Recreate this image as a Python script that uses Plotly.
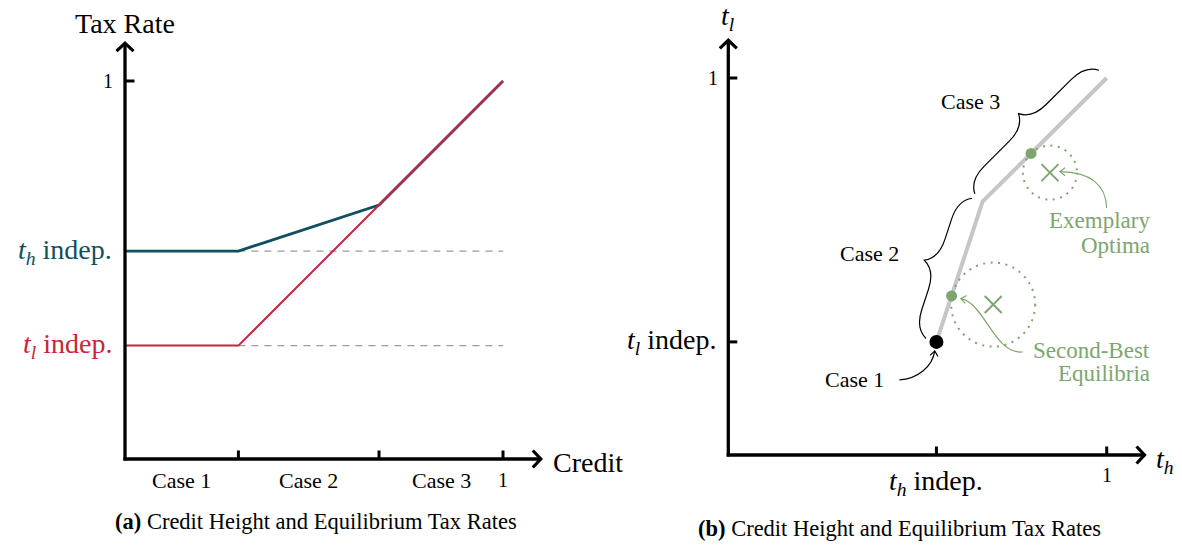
import math
import plotly.graph_objects as go

# ---------------------------------------------------------------- values --
credit = [0.0, 0.30, 0.672, 1.0]        # credit height: start, case 1|2, case 2|3, full credit
th_rate = [0.55, 0.55, 0.672, 1.0]      # equilibrium t_h along the credit axis
tl_rate = [0.30, 0.30, 0.672, 1.0]      # equilibrium t_l along the credit axis
case_names = ["Case 1", "Case 2", "Case 3"]
th_indep = 0.55
tl_indep = 0.30

# panel (b): the same equilibria as a path in the (t_h, t_l) plane
path_th = [0.55, 0.672, 1.0]
path_tl = [0.30, 0.672, 1.0]
second_best_th = [0.59, 0.80]
second_best_tl = [0.422, 0.80]
optimum_th = [0.70, 0.85]
optimum_tl = [0.399, 0.749]
optimum_radius = [0.111, 0.0715]

# ---------------------------------------------------------------- styles --
FONT = "Liberation Serif"
TEAL = "#0f4f60"
RED = "#c8233f"
GREEN = "#7ea56f"
PATH_GRAY = "#c6c6c6"
DASH_GRAY = "#9c9c9c"

W, H = 1182, 547
XR_A = [-0.33069, 1.23280]
YR_A = [-0.23280, 1.21429]
XR_B = [-0.36284, 1.19900]
YR_B = [-0.24403, 1.20690]
SXA = (W / 2) / (XR_A[1] - XR_A[0])
SYA = H / (YR_A[1] - YR_A[0])
SXB = (W / 2) / (XR_B[1] - XR_B[0])
SYB = H / (YR_B[1] - YR_B[0])
AXIS_END = 1.10

fig = go.Figure()

# ------------------------------------------------------------- panel (a) --
for level in (th_indep, tl_indep):
    fig.add_trace(go.Scatter(x=[credit[1], credit[-1]], y=[level, level], mode="lines",
                             line=dict(color=DASH_GRAY, width=1.3, dash="7px,6px"),
                             hoverinfo="skip", xaxis="x", yaxis="y"))
fig.add_trace(go.Scatter(x=credit, y=th_rate, mode="lines",
                         line=dict(color=TEAL, width=2.8), xaxis="x", yaxis="y"))
fig.add_trace(go.Scatter(x=credit, y=tl_rate, mode="lines",
                         line=dict(color=RED, width=2.0), xaxis="x", yaxis="y"))

# ------------------------------------------------------------- panel (b) --
fig.add_trace(go.Scatter(x=path_th, y=path_tl, mode="lines",
                         line=dict(color=PATH_GRAY, width=4), xaxis="x2", yaxis="y2"))
fig.add_trace(go.Scatter(x=[path_th[0]], y=[path_tl[0]], mode="markers",
                         marker=dict(color="black", size=14), xaxis="x2", yaxis="y2"))
fig.add_trace(go.Scatter(x=second_best_th, y=second_best_tl, mode="markers",
                         marker=dict(color=GREEN, size=11), xaxis="x2", yaxis="y2"))
fig.add_trace(go.Scatter(x=optimum_th, y=optimum_tl, mode="markers",
                         marker=dict(symbol="x-thin", size=17, color=GREEN,
                                     line=dict(width=2, color=GREEN)),
                         xaxis="x2", yaxis="y2"))

shapes = []
annotations = []


def seg(x0, y0, x1, y1, xref, yref, width=3.3, color="black"):
    shapes.append(dict(type="line", x0=x0, y0=y0, x1=x1, y1=y1, xref=xref, yref=yref,
                       line=dict(color=color, width=width), layer="above"))


def poly(points, xref, yref, width, color):
    d = "M" + " L".join(f"{x:.5f},{y:.5f}" for x, y in points)
    shapes.append(dict(type="path", path=d, xref=xref, yref=yref,
                       line=dict(color=color, width=width), layer="above"))


def text(t, x, y, xref, yref, size, color="black", xanchor="center", yanchor="middle",
         xshift=0, yshift=0):
    annotations.append(dict(text=t, x=x, y=y, xref=xref, yref=yref, showarrow=False,
                            font=dict(family=FONT, size=size, color=color),
                            xanchor=xanchor, yanchor=yanchor, xshift=xshift, yshift=yshift))


def draw_axes(xref, yref, sx, sy):
    # L-shaped axes ending in open chevron heads
    cap_x, cap_y = 1.6 / sx, 1.6 / sy
    seg(-cap_x, 0, AXIS_END - 1.5 / sx, 0, xref, yref)
    seg(0, -cap_y, 0, AXIS_END - 1.5 / sy, xref, yref)
    back, half = 8.0, 8.5
    poly([(AXIS_END - back / sx, half / sy), (AXIS_END, 0), (AXIS_END - back / sx, -half / sy)],
         xref, yref, 3.2, "black")
    poly([(-half / sx, AXIS_END - back / sy), (0, AXIS_END), (half / sx, AXIS_END - back / sy)],
         xref, yref, 3.2, "black")


# axes and ticks of panel (a)
draw_axes("x", "y", SXA, SYA)
seg(0, 1.0, 9.5 / SXA, 1.0, "x", "y", width=3)
for c in credit[1:]:
    seg(c, 0, c, 8.5 / SYA, "x", "y", width=3)

text("Tax Rate", 0, AXIS_END, "x", "y", 28, yanchor="bottom", yshift=2)
text("Credit", AXIS_END, 0, "x", "y", 28, xanchor="left", xshift=10, yshift=-3)
text("1", 0, 1.0, "x", "y", 20, xshift=-17)
text("1", credit[-1], 0, "x", "y", 20, yshift=-21)
for i, name in enumerate(case_names):
    text(name, (credit[i] + credit[i + 1]) / 2, 0, "x", "y", 22, yshift=-21)
text("<i>t</i><sub><i>h</i></sub> indep.", 0, th_indep, "x", "y", 28, color=TEAL,
     xanchor="right", xshift=-11)
text("<i>t</i><sub><i>l</i></sub> indep.", 0, tl_indep, "x", "y", 28, color=RED,
     xanchor="right", xshift=-11)

# axes and ticks of panel (b)
draw_axes("x2", "y2", SXB, SYB)
for v in (tl_indep, 1.0):
    seg(0, v, 9 / SXB, v, "x2", "y2", width=3)
for v in (th_indep, 1.0):
    seg(v, 0, v, 8.5 / SYB, "x2", "y2", width=3)

text("<i>t</i><sub><i>l</i></sub>", 0, AXIS_END, "x2", "y2", 28, yanchor="bottom", yshift=3)
text("<i>t</i><sub><i>h</i></sub>", AXIS_END, 0, "x2", "y2", 28, xanchor="left",
     xshift=9, yshift=-5)
text("1", 0, 1.0, "x2", "y2", 20, xshift=-15)
text("1", 1.0, 0, "x2", "y2", 20, yshift=-20)
text("<i>t</i><sub><i>l</i></sub> indep.", 0, tl_indep, "x2", "y2", 28,
     xanchor="right", xshift=-10)
text("<i>t</i><sub><i>h</i></sub> indep.", th_indep, 0, "x2", "y2", 28, yshift=-27)


def shift_b(pt, dx, dy):
    """Move a panel-(b) data point by screen pixels (dx right, dy down)."""
    return (pt[0] + dx / SXB, pt[1] - dy / SYB)


def brace(p0, p1, amp=26.0, off=11.0):
    """Curly brace on the upper-left side of the segment p0 -> p1; returns (path, tip)."""
    x0, y0 = p0[0] * SXB, p0[1] * SYB
    x1, y1 = p1[0] * SXB, p1[1] * SYB
    L = math.hypot(x1 - x0, y1 - y0)
    ux, uy = (x1 - x0) / L, (y1 - y0) / L
    nx, ny = -uy, ux
    a = amp
    m = L / 2

    def P(s, v):
        px = x0 + s * ux + (off + v) * nx
        py = y0 + s * uy + (off + v) * ny
        return f"{px / SXB:.5f},{py / SYB:.5f}"

    d = (f"M{P(0, 0)} C{P(.15 * a, .3 * a)} {P(.5 * a, .5 * a)} {P(a, .5 * a)} "
         f"L{P(m - a, .5 * a)} C{P(m - .5 * a, .5 * a)} {P(m - .15 * a, .7 * a)} {P(m, a)} "
         f"C{P(m + .15 * a, .7 * a)} {P(m + .5 * a, .5 * a)} {P(m + a, .5 * a)} "
         f"L{P(L - a, .5 * a)} C{P(L - .5 * a, .5 * a)} {P(L - .15 * a, .3 * a)} {P(L, 0)}")
    tip = ((x0 + m * ux + (off + a) * nx) / SXB, (y0 + m * uy + (off + a) * ny) / SYB)
    return d, tip


def curved_arrow(base, offsets, color):
    """Thin cubic curve ending in a small open arrow head; offsets in screen pixels."""
    pts = [shift_b(base, dx, dy) for dx, dy in offsets]
    d = "M{},{} C{},{} {},{} {},{}".format(*[c for p in pts for c in p])
    shapes.append(dict(type="path", path=d, xref="x2", yref="y2",
                       line=dict(color=color, width=1.2), layer="above"))
    tip, prev = pts[3], pts[2]
    vx, vy = (tip[0] - prev[0]) * SXB, (tip[1] - prev[1]) * SYB
    n = math.hypot(vx, vy)
    vx, vy = vx / n, vy / n
    arms = []
    for sgn in (1, -1):
        ang = math.radians(180 + sgn * 38)
        rx = vx * math.cos(ang) - vy * math.sin(ang)
        ry = vx * math.sin(ang) + vy * math.cos(ang)
        arms.append((tip[0] + rx * 6.5 / SXB, tip[1] + ry * 6.5 / SYB))
    poly([arms[0], tip, arms[1]], "x2", "y2", 1.2, color)


# braces for cases 2 and 3
corner = [(path_th[i], path_tl[i]) for i in range(len(path_th))]
brace2, tip2 = brace(corner[0], corner[1])
brace3, tip3 = brace(corner[1], corner[2])
for d in (brace2, brace3):
    shapes.append(dict(type="path", path=d, xref="x2", yref="y2",
                       line=dict(color="black", width=1.2), layer="above"))
text("Case 2", tip2[0], tip2[1], "x2", "y2", 22, xanchor="right", xshift=-23, yshift=7)
text("Case 3", tip3[0], tip3[1], "x2", "y2", 22, xanchor="right", xshift=-17, yshift=12)

# case 1 pointer
start = corner[0]
text("Case 1", start[0], start[1], "x2", "y2", 22, xanchor="right", xshift=-50, yshift=-38)
curved_arrow(start, [(-37, 38), (-19, 37), (-4, 25), (-1.7, 9)], "black")

# dotted neighbourhoods around the optima
for cx, cy, r in zip(optimum_th, optimum_tl, optimum_radius):
    shapes.append(dict(type="circle", xref="x2", yref="y2",
                       x0=cx - r, x1=cx + r, y0=cy - r * SXB / SYB, y1=cy + r * SXB / SYB,
                       line=dict(color=GREEN, width=2, dash="2px,5.5px"), layer="above"))

# green callouts
lo_eq = (second_best_th[0], second_best_tl[0])
hi_opt = (optimum_th[1], optimum_tl[1])
curved_arrow(lo_eq, [(71, 56), (43, 59), (33, 7), (9.3, 2.7)], GREEN)
curved_arrow(hi_opt, [(56.7, 35.3), (56, 12), (40, -0.7), (10, -1)], GREEN)
text("Exemplary", hi_opt[0], hi_opt[1], "x2", "y2", 23, color=GREEN,
     xanchor="right", xshift=102, yshift=-48)
text("Optima", hi_opt[0], hi_opt[1], "x2", "y2", 23, color=GREEN,
     xanchor="right", xshift=102, yshift=-73)
lo_opt = (optimum_th[0], optimum_tl[0])
text("Second-Best", lo_opt[0], lo_opt[1], "x2", "y2", 23, color=GREEN,
     xanchor="right", xshift=159, yshift=-46)
text("Equilibria", lo_opt[0], lo_opt[1], "x2", "y2", 23, color=GREEN,
     xanchor="right", xshift=159, yshift=-69)

# captions
text("<b>(a)</b> Credit Height and Equilibrium Tax Rates", 316 / W, 1 - 521 / H,
     "paper", "paper", 22.5)
text("<b>(b)</b> Credit Height and Equilibrium Tax Rates", 900 / W, 1 - 528 / H,
     "paper", "paper", 22.5)

hidden = dict(visible=False, showgrid=False, zeroline=False, fixedrange=True)
fig.update_layout(
    width=W, height=H, autosize=False,
    margin=dict(l=0, r=0, t=0, b=0, pad=0),
    paper_bgcolor="white", plot_bgcolor="white",
    showlegend=False,
    xaxis=dict(domain=[0, 0.5], range=XR_A, anchor="y", **hidden),
    yaxis=dict(domain=[0, 1], range=YR_A, anchor="x", **hidden),
    xaxis2=dict(domain=[0.5, 1], range=XR_B, anchor="y2", **hidden),
    yaxis2=dict(domain=[0, 1], range=YR_B, anchor="x2", **hidden),
    shapes=shapes,
    annotations=annotations,
    font=dict(family=FONT),
)

fig.write_html("out.html")
